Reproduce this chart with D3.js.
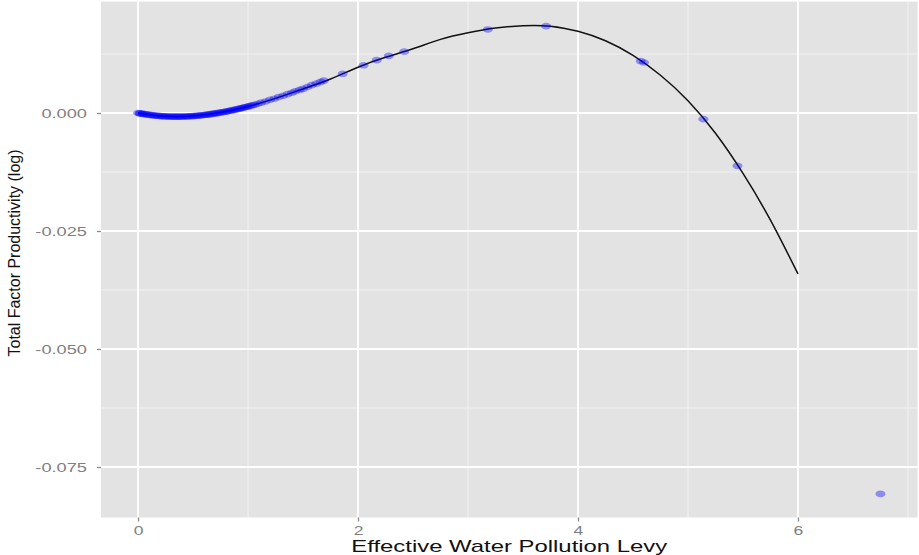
<!DOCTYPE html>
<html><head><meta charset="utf-8">
<script src="https://cdn.jsdelivr.net/npm/d3@7"></script>
<style>body{margin:0;background:#fff}svg{display:block}</style>
</head><body>
<svg id="c" width="919" height="555"></svg>
<script>
// fitted curve
const curveX = [0,0.25,0.5,0.75,1,1.25,1.5,1.75,2,2.25,2.5,2.75,3,3.25,3.5,3.75,4,4.25,4.5,4.75,5,5.25,5.5,5.75,6];
const curveY = [0,-0.00071,-0.00065,0.00009,0.00138,0.0031,0.0051,0.0072,0.0097,0.0118,0.0136,0.0156,0.0170,0.0180,0.0185,0.0184,0.0173,0.0153,0.0122,0.0080,0.0026,-0.0043,-0.0128,-0.0227,-0.0341];
// observed points
const pointX = [0.00,0.02,0.04,0.06,0.09,0.12,0.15,0.18,0.21,0.24,0.27,0.30,0.33,0.36,0.39,0.42,0.45,0.48,0.51,0.54,0.57,0.60,0.63,0.66,0.69,0.72,0.75,0.78,0.81,0.84,0.87,0.90,0.93,0.96,0.99,1.02,1.06,
  0.015,0.045,0.075,0.105,0.135,0.165,0.195,0.225,0.255,0.285,0.315,0.345,0.375,0.405,0.435,0.465,0.495,0.525,0.555,0.585,0.615,0.645,0.675,0.705,0.735,0.765,0.795,0.825,0.855,0.885,0.915,0.945,0.975,1.005,1.04,
  1.09,1.16,1.24,1.32,1.40,1.47,1.54,1.62,1.69,
  1.12,1.20,1.28,1.36,1.43,1.50,1.58,1.66,1.86,2.05,2.17,2.28,2.42,3.18,3.71,4.57,4.60,5.14,5.45,6.75];
const pointY = [0,-0.00009,-0.00017,-0.00025,-0.00035,-0.00045,-0.00053,-0.00060,-0.00066,-0.00070,-0.00074,-0.00076,-0.00077,-0.00077,-0.00077,-0.00075,-0.00072,-0.00068,-0.00063,-0.00057,-0.00050,-0.00043,-0.00034,-0.00024,-0.00014,-0.00003,0.00009,0.00022,0.00035,0.00050,0.00065,0.00080,0.00097,0.00114,0.00132,0.00150,0.00176,
  -0.000067,-0.000192,-0.000303,-0.000403,-0.00049,-0.000565,-0.000629,-0.00068,-0.00072,-0.000749,-0.000767,-0.000774,-0.000772,-0.000758,-0.000732,-0.000698,-0.000655,-0.000601,-0.000538,-0.000465,-0.000383,-0.000294,-0.000194,-0.000086,0.000028,0.000153,0.000285,0.000423,0.00057,0.000725,0.000886,0.001054,0.001228,0.001409,0.001629,
  0.00196,0.00244,0.00303,0.00365,0.0043,0.0049,0.0055,0.00622,0.00686,
  0.0022,0.0028,0.0034,0.0040,0.0046,0.0051,0.0059,0.0066,0.0083,0.0101,0.0112,0.0121,0.0130,0.0177,0.0184,0.0110,0.0107,-0.0013,-0.0112,-0.0807];
const xTicks = [0,2,4,6];
const xMinor = [1,3,5,7];
const yTicks = [0,-0.025,-0.05,-0.075];
const yMinor = [0.0125,-0.0125,-0.0375,-0.0625];
const xTitle = "Effective Water Pollution Levy";
const yTitle = "Total Factor Productivity (log)";

const svg = d3.select("#c");
const x = d3.scaleLinear().domain([-0.3375, 7.0875]).range([100.9, 917.6]);
const y = d3.scaleLinear().domain([-0.0857, 0.0236]).range([517.5, 1.6]);
const [x0,x1] = x.range(), [y0,y1] = y.range();

svg.append("rect").attr("x",x0).attr("y",y1).attr("width",x1-x0).attr("height",y0-y1).attr("fill","#e3e3e3");
const g = svg.append("g");
g.selectAll(".mx").data(xMinor).join("line").attr("x1",d=>x(d)).attr("x2",d=>x(d)).attr("y1",y1).attr("y2",y0).attr("stroke","#f1f1f1").attr("stroke-width",1);
g.selectAll(".my").data(yMinor).join("line").attr("y1",d=>y(d)).attr("y2",d=>y(d)).attr("x1",x0).attr("x2",x1).attr("stroke","#f1f1f1").attr("stroke-width",1);
g.selectAll(".Mx").data(xTicks).join("line").attr("x1",d=>x(d)).attr("x2",d=>x(d)).attr("y1",y1).attr("y2",y0).attr("stroke","#fff").attr("stroke-width",1.8);
g.selectAll(".My").data(yTicks).join("line").attr("y1",d=>y(d)).attr("y2",d=>y(d)).attr("x1",x0).attr("x2",x1).attr("stroke","#fff").attr("stroke-width",1.8);

// curve
const line = d3.line().x((d,i)=>x(curveX[i])).y(d=>y(d)).curve(d3.curveNatural);
svg.append("path").attr("d",line(curveY)).attr("fill","none").attr("stroke","#111").attr("stroke-width",1.5);

// points
svg.selectAll(".pt").data(pointX).join("ellipse")
  .attr("cx",d=>x(d)).attr("cy",(d,i)=>y(pointY[i])).attr("rx",5).attr("ry",3.3)
  .attr("fill","blue").attr("fill-opacity",0.38);

// axes
const ax = d3.axisBottom(x).tickValues(xTicks).tickFormat(d3.format("d")).tickSize(4).tickPadding(3);
const ay = d3.axisLeft(y).tickValues(yTicks).tickFormat(d=>d===0?"0.000":d3.format(".3f")(d).replace("−","-")).tickSize(4).tickPadding(12);
const gx = svg.append("g").attr("transform",`translate(0,${y0})`).call(ax);
const gy = svg.append("g").attr("transform",`translate(${x0},0)`).call(ay);
[gx,gy].forEach(a=>{
  a.select(".domain").remove();
  a.selectAll(".tick line").attr("stroke","#8a8a8a").attr("stroke-width",1.3);
  a.selectAll(".tick text").attr("fill","#7f7f7f").attr("font-family","Liberation Sans, Arial, sans-serif").attr("font-size",13);
});
gx.selectAll(".tick text").attr("y",8).attr("dy","0.71em").attr("x",0).attr("transform","scale(1.35,1)");
gy.selectAll(".tick text").attr("dy","0.35em").attr("x",0).attr("transform","translate(-14,0) scale(1.4,1)");

svg.append("text").attr("x",(x0+x1)/2).attr("y",552).attr("text-anchor","middle")
  .attr("font-family","Liberation Sans, Arial, sans-serif").attr("font-size",17).attr("fill","#111")
  .attr("textLength",316).attr("lengthAdjust","spacingAndGlyphs").text(xTitle);
svg.append("text").attr("transform","translate(20,253) rotate(-90)").attr("text-anchor","middle")
  .attr("font-family","Liberation Sans, Arial, sans-serif").attr("font-size",16).attr("fill","#111")
  .attr("textLength",207).attr("lengthAdjust","spacingAndGlyphs").text(yTitle);
</script>
</body></html>
